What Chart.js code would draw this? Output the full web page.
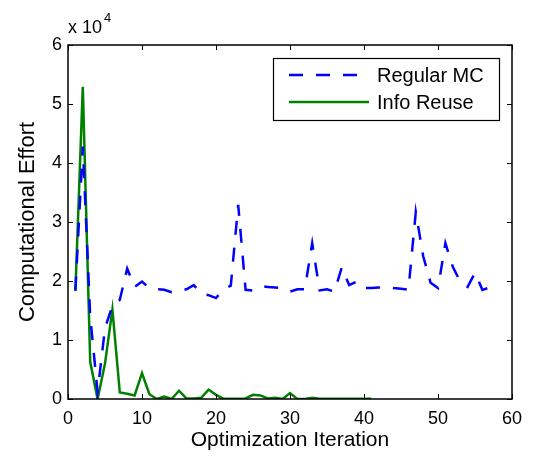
<!DOCTYPE html>
<html>
<head>
<meta charset="utf-8">
<script src="https://cdn.jsdelivr.net/npm/chart.js@4"></script>
<style>
  html, body { margin: 0; padding: 0; background: #fff; }
  #wrap { width: 533px; height: 457px; }
</style>
</head>
<body>
<div id="wrap"><canvas id="grafico" width="533" height="457"></canvas></div>
<script>
// computational effort per optimization iteration (raw counts)
const regularMC = [
  18400, 42800, 14000, 1200, 12000, 15800, 16800, 22100, 19000, 19900,
  18800, 18600, 18500, 18100, 18300, 18600, 19300, 17900, 17600, 17100,
  18600, 19200, 32900, 18500, 18400, 19100, 19000, 18900, 18800, 18200,
  18600, 18600, 26400, 18400, 18600, 18200, 22300, 19300, 19900, 18800,
  18800, 18900, 19000, 18800, 18700, 18500, 31700, 24200, 19700, 18800,
  26400, 22400, 19900, 19000, 21400, 18500, 18900
];
const infoReuse = [
  18300, 52900, 6300, 0, 6000, 15200, 1100, 900, 600, 4400,
  800, 0, 400, 0, 1400, 100, 100, 200, 1600, 700,
  50, 30, 30, 100, 700, 600, 100, 200, 0, 1000,
  0, 0, 200, 30, 30, 30, 30, 30, 30, 30, 30
];
const xTicks = [0, 10, 20, 30, 40, 50, 60];
const yTicks = [0, 10000, 20000, 30000, 40000, 50000, 60000];

const toPoints = arr => arr.map((v, i) => ({ x: i + 1, y: v }));

const FONT = 'Liberation Sans, Arial, Helvetica, sans-serif';

// MATLAB style box: inward ticks on all four sides, exponent, boxed legend
const boxPlugin = {
  id: 'boxPlugin',
  afterDraw(chart) {
    const ctx = chart.ctx;
    const a = chart.chartArea;
    const xs = chart.scales.x, ys = chart.scales.y;
    const tl = 5;
    ctx.save();
    ctx.strokeStyle = '#000';
    ctx.lineWidth = 1;
    ctx.beginPath();
    xTicks.forEach(t => {
      const px = Math.round(xs.getPixelForValue(t)) + 0.5;
      ctx.moveTo(px, a.bottom); ctx.lineTo(px, a.bottom - tl);
      ctx.moveTo(px, a.top); ctx.lineTo(px, a.top + tl);
    });
    yTicks.forEach(t => {
      const py = Math.round(ys.getPixelForValue(t)) + 0.5;
      ctx.moveTo(a.left, py); ctx.lineTo(a.left + tl, py);
      ctx.moveTo(a.right, py); ctx.lineTo(a.right - tl, py);
    });
    ctx.stroke();
    ctx.lineWidth = 1.5;
    ctx.strokeRect(a.left, a.top, a.right - a.left, a.bottom - a.top);

    // exponent above the y axis
    ctx.fillStyle = '#000';
    ctx.textBaseline = 'alphabetic';
    ctx.textAlign = 'left';
    ctx.font = '18px ' + FONT;
    ctx.fillText('x 10', a.left, a.top - 12);
    const w = ctx.measureText('x 10').width;
    ctx.font = '13px ' + FONT;
    ctx.fillText('4', a.left + w + 2, a.top - 23);

    // legend
    const lx = 273, ly = 58, lw = 226, lh = 62;
    ctx.fillStyle = '#fff';
    ctx.fillRect(lx, ly, lw, lh);
    ctx.lineWidth = 1.2;
    ctx.strokeStyle = '#000';
    ctx.strokeRect(lx + 0.5, ly + 0.5, lw, lh);
    chart.data.datasets.forEach((ds, i) => {
      const y = ly + 17 + i * 27;
      ctx.strokeStyle = ds.borderColor;
      ctx.lineWidth = ds.borderWidth;
      ctx.setLineDash(ds.borderDash || []);
      ctx.beginPath();
      ctx.moveTo(289, y); ctx.lineTo(369, y);
      ctx.stroke();
      ctx.setLineDash([]);
      ctx.fillStyle = '#000';
      ctx.font = '20px ' + FONT;
      ctx.textBaseline = 'middle';
      ctx.fillText(ds.label, 377, y + 1);
    });
    ctx.restore();
  }
};

const ctx = document.getElementById('grafico').getContext('2d');
new Chart(ctx, {
  type: 'line',
  data: {
    datasets: [{
      label: 'Regular MC',
      data: toPoints(regularMC),
      borderColor: '#0000ff',
      borderWidth: 2.5,
      borderDash: [14, 13],
      pointRadius: 0,
      tension: 0,
      fill: false
    }, {
      label: 'Info Reuse',
      data: toPoints(infoReuse),
      borderColor: '#008000',
      borderWidth: 2.5,
      pointRadius: 0,
      tension: 0,
      fill: false
    }]
  },
  options: {
    responsive: false,
    animation: false,
    layout: { padding: { left: 0, right: 21, top: 45, bottom: 0 } },
    plugins: {
      legend: { display: false },
      tooltip: { enabled: false }
    },
    scales: {
      x: {
        type: 'linear',
        min: 0, max: 60,
        afterFit: s => { s.height = 58; },
        afterBuildTicks: s => { s.ticks = xTicks.map(v => ({ value: v })); },
        grid: { display: false, drawTicks: false },
        border: { display: false },
        ticks: { color: '#000', font: { family: FONT, size: 18 }, padding: 9, maxRotation: 0 },
        title: { display: true, text: 'Optimization Iteration', color: '#000', font: { family: FONT, size: 21 }, padding: { top: 0, bottom: 4 } }
      },
      y: {
        min: 0, max: 60000,
        afterFit: s => { s.width = 68; },
        afterBuildTicks: s => { s.ticks = yTicks.map(v => ({ value: v })); },
        grid: { display: false, drawTicks: false },
        border: { display: false },
        ticks: { color: '#000', font: { family: FONT, size: 18 }, padding: 6, callback: v => v / 10000 },
        title: { display: true, text: 'Computational Effort', color: '#000', font: { family: FONT, size: 22 }, padding: { top: 15, bottom: 0 } }
      }
    }
  },
  plugins: [boxPlugin]
});
</script>
</body>
</html>
